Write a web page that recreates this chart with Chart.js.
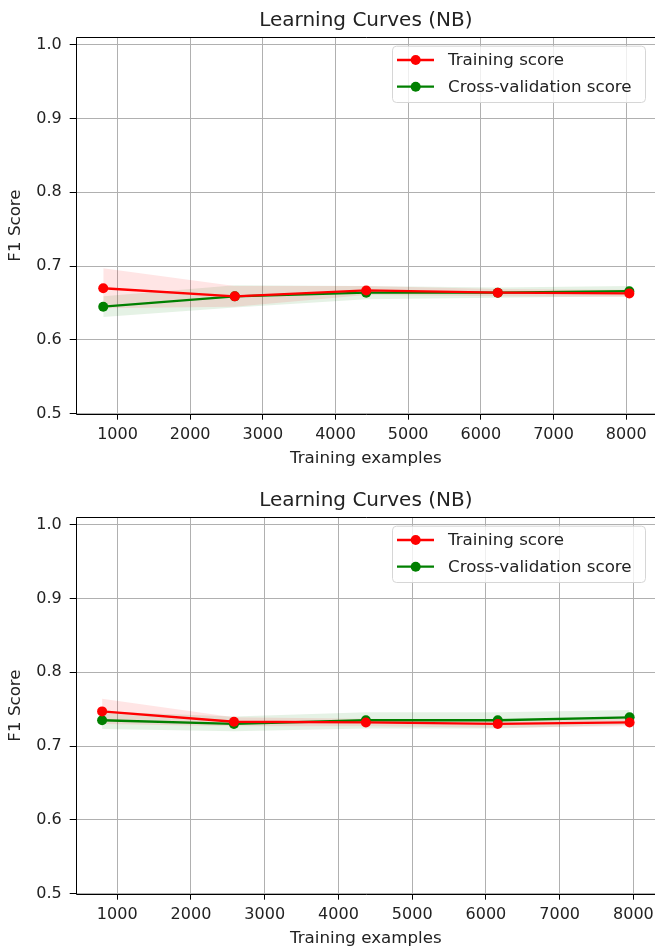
<!DOCTYPE html>
<html>
<head>
<meta charset="utf-8">
<script src="https://cdn.jsdelivr.net/npm/chart.js@4/dist/chart.umd.min.js"></script>
<style>
  body { margin: 0; background: #fff; overflow: hidden; width: 655px; height: 949px; }
  canvas { display: block; }
</style>
</head>
<body>
<canvas id="chartTop" width="670" height="480"></canvas>
<canvas id="chartBottom" width="670" height="480"></canvas>
<script>
// tick labels
const xTicks = [1000, 2000, 3000, 4000, 5000, 6000, 7000, 8000]
const yTicks = [0.5, 0.6, 0.7, 0.8, 0.9, 1.0]

// top plot
const sizesTop = [804, 2614, 4423, 6233, 8043]
const trainMeanTop = [0.670, 0.659, 0.667, 0.664, 0.663]
const trainStdTop = [0.027, 0.014, 0.006, 0.005, 0.005]
const cvMeanTop = [0.645, 0.659, 0.664, 0.664, 0.666]
const cvStdTop = [0.014, 0.015, 0.009, 0.007, 0.007]

// bottom plot
const sizesBottom = [795, 2583, 4372, 6160, 7948]
const trainMeanBottom = [0.747, 0.733, 0.732, 0.730, 0.732]
const trainStdBottom = [0.017, 0.006, 0.005, 0.005, 0.005]
const cvMeanBottom = [0.735, 0.730, 0.735, 0.735, 0.739]
const cvStdBottom = [0.012, 0.010, 0.011, 0.011, 0.010]

const FONT = "'DejaVu Sans', sans-serif"
const TEXT = '#222'

function pts(xs, ys, std, sign) {
    return xs.map((x, i) => ({x: x, y: ys[i] + sign * (std ? std[i] : 0)}))
}

// left, top and bottom spines (the right one falls outside the picture)
const spines = {
    id: 'spines',
    afterDatasetsDraw(chart) {
        const a = chart.chartArea
        const ctx = chart.ctx
        const l = Math.round(a.left) + 0.5
        const t = Math.round(a.top) + 0.5
        const b = Math.round(a.bottom) + 0.5
        ctx.save()
        ctx.strokeStyle = '#000'
        ctx.lineWidth = 1
        ctx.beginPath()
        ctx.moveTo(a.right, t)
        ctx.lineTo(l, t)
        ctx.lineTo(l, b)
        ctx.lineTo(a.right, b)
        ctx.stroke()
        ctx.restore()
    }
}

// legend box in the upper right corner
const lineLegend = {
    id: 'lineLegend',
    afterDraw(chart) {
        const a = chart.chartArea
        const ctx = chart.ctx
        const items = chart.data.datasets.filter(d => d.inLegend)
        const right = 645
        const left = right - 253
        const top = a.top + 8.4
        const h = 56.3
        ctx.save()
        ctx.beginPath()
        ctx.roundRect(left + 0.5, top + 0.5, right - left, h, 4)
        ctx.fillStyle = 'rgba(255,255,255,0.8)'
        ctx.fill()
        ctx.strokeStyle = '#d6d6d6'
        ctx.lineWidth = 1
        ctx.stroke()
        items.forEach((d, i) => {
            const y = top + 14.3 + i * 26.7
            ctx.strokeStyle = d.borderColor
            ctx.lineWidth = 2.3
            ctx.beginPath()
            ctx.moveTo(left + 5, y)
            ctx.lineTo(left + 42, y)
            ctx.stroke()
            ctx.fillStyle = d.borderColor
            ctx.beginPath()
            ctx.arc(left + 23.7, y, 5, 0, Math.PI * 2)
            ctx.fill()
            ctx.fillStyle = TEXT
            ctx.font = '16.7px ' + FONT
            ctx.textBaseline = 'middle'
            ctx.fillText(d.label, left + 56, y + 1)
        })
        ctx.restore()
    }
}

function drawCurves(id, sizes, trainMean, trainStd, cvMean, cvStd, xMin, xMax) {
    const ctx = document.getElementById(id).getContext('2d')
    return new Chart(ctx, {
        type: 'line',
        data: {
            datasets: [
                {data: pts(sizes, trainMean, trainStd, 1), pointRadius: 0, borderWidth: 0, fill: false},
                {data: pts(sizes, trainMean, trainStd, -1), pointRadius: 0, borderWidth: 0,
                    fill: '-1', backgroundColor: 'rgba(255,0,0,0.1)'},
                {data: pts(sizes, cvMean, cvStd, 1), pointRadius: 0, borderWidth: 0, fill: false},
                {data: pts(sizes, cvMean, cvStd, -1), pointRadius: 0, borderWidth: 0,
                    fill: '-1', backgroundColor: 'rgba(0,128,0,0.1)'},
                {label: 'Training score', inLegend: true, data: pts(sizes, trainMean, null, 0),
                    borderColor: '#ff0000', backgroundColor: '#ff0000', borderWidth: 2.3,
                    pointRadius: 5, pointBorderWidth: 0, pointBackgroundColor: '#ff0000', fill: false},
                {label: 'Cross-validation score', inLegend: true, data: pts(sizes, cvMean, null, 0),
                    borderColor: '#008000', backgroundColor: '#008000', borderWidth: 2.3,
                    pointRadius: 5, pointBorderWidth: 0, pointBackgroundColor: '#008000', fill: false}
            ]
        },
        options: {
            responsive: false,
            animation: false,
            devicePixelRatio: 1,
            layout: {padding: {left: 0, right: 14, top: 0, bottom: 0}},
            plugins: {
                legend: {display: false},
                tooltip: {enabled: false},
                filler: {drawTime: 'beforeDatasetsDraw'},
                title: {
                    display: true,
                    fullSize: false,
                    text: 'Learning Curves (NB)',
                    color: TEXT,
                    font: {family: FONT, size: 20, weight: 'normal', lineHeight: 1.2},
                    padding: {top: 9, bottom: 4.3}
                }
            },
            scales: {
                x: {
                    type: 'linear',
                    min: xMin,
                    max: xMax,
                    afterBuildTicks: s => { s.ticks = xTicks.map(v => ({value: v})) },
                    afterFit: s => { s.height = 66.3 },
                    border: {display: false},
                    grid: {color: '#b0b0b0', lineWidth: 1, drawTicks: true, tickLength: 6,
                        tickColor: '#000', tickWidth: 1},
                    ticks: {autoSkip: false, maxRotation: 0, padding: 5.7, color: TEXT,
                        font: {family: FONT, size: 16},
                        callback: v => String(v)},
                    title: {display: true, text: 'Training examples', color: TEXT,
                        font: {family: FONT, size: 16.7, lineHeight: 1.2},
                        padding: {top: 0, bottom: 11}}
                },
                y: {
                    type: 'linear',
                    min: 0.5,
                    max: 1.01,
                    afterBuildTicks: s => { s.ticks = yTicks.map(v => ({value: v})) },
                    afterFit: s => { s.width = 75.7 },
                    border: {display: false},
                    grid: {color: '#b0b0b0', lineWidth: 1, drawTicks: true, tickLength: 6,
                        tickColor: '#000', tickWidth: 1},
                    ticks: {autoSkip: false, padding: 8, color: TEXT,
                        font: {family: FONT, size: 16},
                        callback: v => v.toFixed(1)},
                    title: {display: true, text: 'F1 Score', color: TEXT,
                        font: {family: FONT, size: 16.7, lineHeight: 1.2},
                        padding: {top: 6, bottom: 0}}
                }
            }
        },
        plugins: [spines, lineLegend]
    })
}

drawCurves('chartTop', sizesTop, trainMeanTop, trainStdTop, cvMeanTop, cvStdTop, 425, 8410)
drawCurves('chartBottom', sizesBottom, trainMeanBottom, trainStdBottom, cvMeanBottom, cvStdBottom, 437, 8306)
</script>
</body>
</html>
